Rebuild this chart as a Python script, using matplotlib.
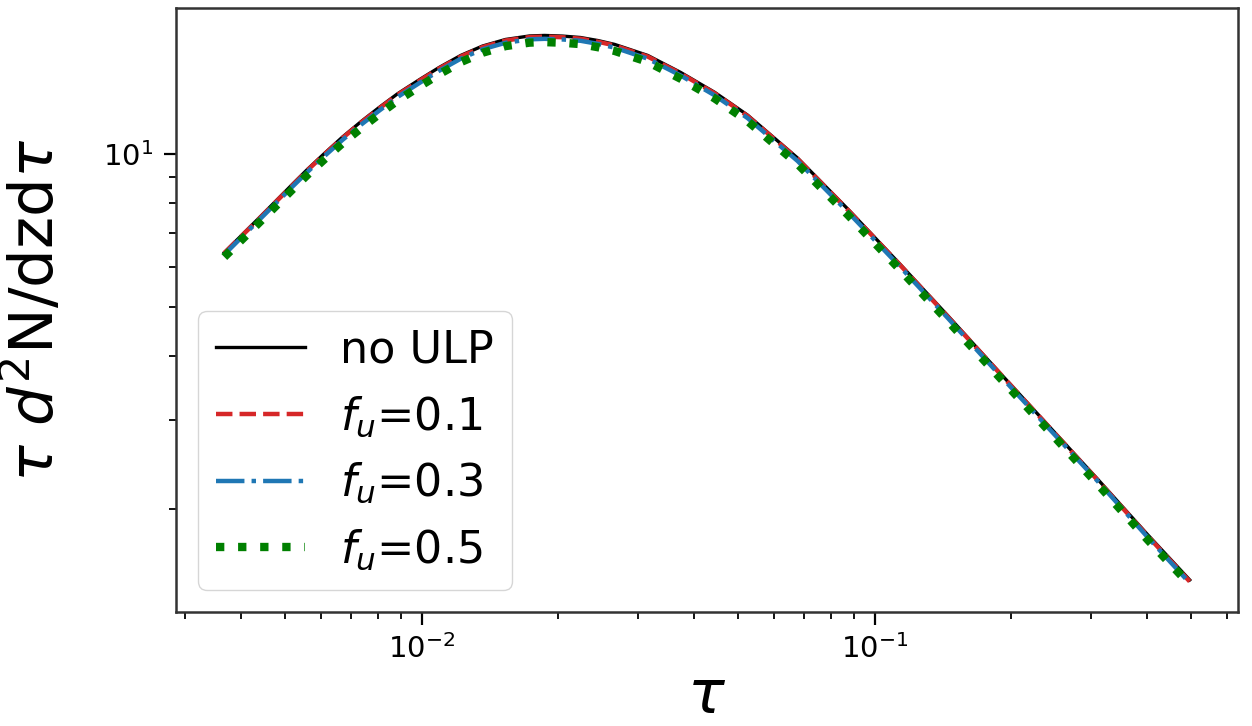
import numpy as np
import matplotlib.pyplot as plt

# lifetime grid and distributions tau d^2N/dzdtau
tau = [0.00367, 0.00399, 0.00435, 0.00473, 0.00515, 0.00560, 0.00610, 0.00669,
       0.00735, 0.00807, 0.00885, 0.00988, 0.01094, 0.01221, 0.01364, 0.01532,
       0.01731, 0.01868, 0.0205, 0.02244, 0.0245, 0.02667, 0.03155, 0.0373,
       0.04435, 0.05244, 0.06761, 0.08718, 0.1124, 0.1449, 0.1868, 0.2409,
       0.3106, 0.4006, 0.496]

no_ulp = [6.40, 6.89, 7.44, 8.02, 8.66, 9.33, 10.02, 10.80, 11.58, 12.36, 13.14,
          14.00, 14.81, 15.64, 16.32, 16.81, 17.08, 17.12, 17.07, 16.96, 16.73,
          16.44, 15.64, 14.48, 13.23, 11.93, 9.82, 7.80, 6.14, 4.81, 3.75, 2.93,
          2.29, 1.78, 1.45]

fu_01 = [6.38, 6.87, 7.41, 7.99, 8.62, 9.29, 9.98, 10.75, 11.53, 12.30, 13.08,
         13.93, 14.74, 15.56, 16.24, 16.73, 16.99, 17.03, 16.98, 16.87, 16.64,
         16.36, 15.56, 14.41, 13.17, 11.88, 9.78, 7.77, 6.12, 4.79, 3.74, 2.92,
         2.28, 1.77, 1.44]

fu_03 = [6.34, 6.83, 7.37, 7.94, 8.57, 9.22, 9.90, 10.66, 11.42, 12.18, 12.95,
         13.79, 14.59, 15.41, 16.08, 16.56, 16.82, 16.86, 16.81, 16.71, 16.48,
         16.20, 15.41, 14.28, 13.05, 11.77, 9.69, 7.70, 6.07, 4.76, 3.71, 2.90,
         2.27, 1.76, 1.43]

fu_05 = [6.27, 6.75, 7.28, 7.84, 8.46, 9.10, 9.76, 10.50, 11.24, 11.99, 12.74,
         13.57, 14.36, 15.17, 15.83, 16.31, 16.57, 16.61, 16.56, 16.46, 16.23,
         15.96, 15.19, 14.07, 12.87, 11.61, 9.56, 7.60, 5.99, 4.70, 3.67, 2.87,
         2.24, 1.74, 1.42]

labels = ['no ULP', r'$f_u$=0.1', r'$f_u$=0.3', r'$f_u$=0.5']


fig = plt.figure(figsize=(12.52, 7.26), dpi=100)
ax = fig.add_axes([0.1406, 0.157, 0.8482, 0.832])

ax.plot(tau, no_ulp, color='k', lw=2.4, ls='-', label=labels[0])
ax.plot(tau, fu_01, color='tab:red', lw=3.2, ls='--', label=labels[1])
ax.plot(tau, fu_03, color='tab:blue', lw=3.2, ls='-.', label=labels[2])
ax.plot(tau, fu_05, color='green', lw=6.0, ls=':', label=labels[3])

ax.set_xscale('log')
ax.set_yscale('log')

ax.set_xlabel(r'$\tau$', fontsize=44, labelpad=2)
ax.set_ylabel(r'$\tau$ $d^2$N/dzd$\tau$', fontsize=44, labelpad=26)

#ticks and frame, drawn thicker than default
ax.tick_params(which='major', labelsize=21, length=9, width=1.6, pad=7)
ax.tick_params(which='minor', length=5, width=1.3)
for s in ax.spines.values():
    s.set_linewidth(1.8)
    s.set_color('#333333')

ax.legend(loc='lower left', fontsize=32)

fig.savefig('out.png', dpi=100)
